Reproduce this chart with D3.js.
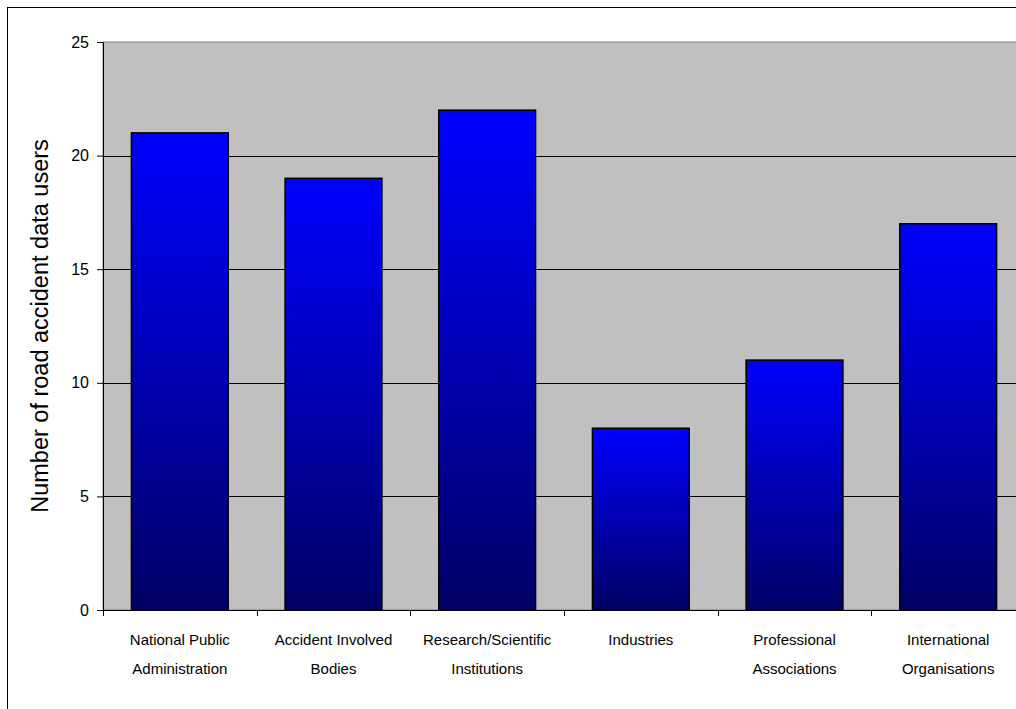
<!DOCTYPE html>
<html>
<head>
<meta charset="utf-8">
<script src="https://cdn.jsdelivr.net/npm/d3@7"></script>
<style>
  body { margin: 0; background: #fff; }
  svg { display: block; font-family: "Liberation Sans", Arial, sans-serif; }
</style>
</head>
<body>
<div id="chart"></div>
<script>
// Chart data
const categories = [
  ["National Public", "Administration"],
  ["Accident Involved", "Bodies"],
  ["Research/Scientific", "Institutions"],
  ["Industries"],
  ["Professional", "Associations"],
  ["International", "Organisations"]
];
const values = [21, 19, 22, 8, 11, 17];
const yTicks = [0, 5, 10, 15, 20, 25];
const yTitle = "Number of road accident data users";

const width = 1016, height = 709;
const margin = {top: 42, right: -9, bottom: 99, left: 103};
const innerW = width - margin.left - margin.right;
const innerH = height - margin.top - margin.bottom;

const svg = d3.select("#chart").append("svg")
  .attr("width", width)
  .attr("height", height);

// outer chart frame
svg.append("rect")
  .attr("x", 7.5).attr("y", 7.5)
  .attr("width", 1030).attr("height", 720)
  .attr("fill", "#fff")
  .attr("stroke", "#000")
  .attr("stroke-width", 1);

// bar gradient
const grad = svg.append("defs").append("linearGradient")
  .attr("id", "barGrad")
  .attr("x1", 0).attr("y1", 0).attr("x2", 0).attr("y2", 1);
grad.append("stop").attr("offset", "0%").attr("stop-color", "#0000ff");
grad.append("stop").attr("offset", "100%").attr("stop-color", "#000066");

const g = svg.append("g")
  .attr("transform", `translate(${margin.left},${margin.top})`);

const x = d3.scaleBand()
  .domain(d3.range(categories.length))
  .range([0, innerW])
  .paddingInner(0.37)
  .paddingOuter(0.185);

const xTick = d3.scaleLinear()
  .domain([0, categories.length])
  .range([0, innerW]);

const y = d3.scaleLinear()
  .domain([0, 25])
  .range([innerH, 0]);

// plot area background
g.append("rect")
  .attr("x", 0).attr("y", 0)
  .attr("width", innerW).attr("height", innerH)
  .attr("fill", "#c0c0c0")
  .attr("stroke", "#808080")
  .attr("stroke-width", 1);

// gridlines
g.selectAll(".grid")
  .data(yTicks.filter(d => d > 0 && d < 25))
  .enter().append("line")
  .attr("class", "grid")
  .attr("x1", 0).attr("x2", innerW)
  .attr("y1", d => Math.round(y(d)) + 0.5)
  .attr("y2", d => Math.round(y(d)) + 0.5)
  .attr("stroke", "#000")
  .attr("stroke-width", 1);

// bars
g.selectAll(".bar")
  .data(values)
  .enter().append("rect")
  .attr("class", "bar")
  .attr("x", (d, i) => x(i))
  .attr("y", d => y(d))
  .attr("width", x.bandwidth())
  .attr("height", d => innerH - y(d))
  .attr("fill", "url(#barGrad)")
  .attr("stroke", "#000")
  .attr("stroke-width", 1.5);

// y axis
const yAxis = g.append("g")
  .call(d3.axisLeft(y).tickValues(yTicks).tickSize(6).tickPadding(8));
yAxis.select(".domain").attr("stroke", "#000");
yAxis.selectAll("line").attr("stroke", "#000");
yAxis.selectAll("text")
  .attr("font-size", 16)
  .attr("fill", "#000")
  .style("font-family", "Liberation Sans, Arial, sans-serif");

// x axis line and ticks
const xAxisG = g.append("g").attr("transform", `translate(0,${innerH})`);
xAxisG.append("line")
  .attr("x1", 0).attr("x2", innerW)
  .attr("y1", 0.5).attr("y2", 0.5)
  .attr("stroke", "#000");
xAxisG.selectAll(".xt")
  .data(d3.range(categories.length + 1))
  .enter().append("line")
  .attr("class", "xt")
  .attr("x1", d => Math.round(xTick(d)) + 0.5)
  .attr("x2", d => Math.round(xTick(d)) + 0.5)
  .attr("y1", 0).attr("y2", 6)
  .attr("stroke", "#000");

// category labels
const lbl = xAxisG.selectAll(".xl")
  .data(categories)
  .enter().append("text")
  .attr("class", "xl")
  .attr("text-anchor", "middle")
  .attr("font-size", 15)
  .attr("fill", "#000")
  .attr("transform", (d, i) => `translate(${x(i) + x.bandwidth() / 2},0)`);
lbl.selectAll("tspan")
  .data(d => d)
  .enter().append("tspan")
  .attr("x", 0)
  .attr("y", (d, i) => 35 + i * 29)
  .text(d => d);

// y title
svg.append("text")
  .attr("transform", `translate(48,${margin.top + innerH / 2}) rotate(-90)`)
  .attr("text-anchor", "middle")
  .attr("font-size", 23.5)
  .attr("fill", "#000")
  .text(yTitle);
</script>
</body>
</html>
